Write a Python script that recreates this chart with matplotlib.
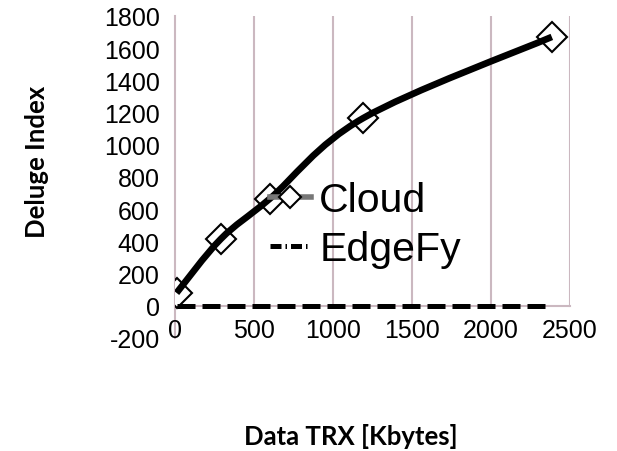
import numpy as np
import matplotlib
matplotlib.use('Agg')
import matplotlib.pyplot as plt
from matplotlib.path import Path
from matplotlib.patches import PathPatch
from matplotlib.lines import Line2D

# data
data_trx = [10, 290, 600, 1190, 2385]
cloud = [80, 415, 665, 1165, 1670]
edgefy = [0, 0, 0, 0, 0]
xticks = [0, 500, 1000, 1500, 2000, 2500]
yticks = list(range(-200, 1801, 200))

grid_col = '#cbb8c0'
plt.rcParams['font.family'] = ['Liberation Sans', 'DejaVu Sans']
plt.rcParams['axes.unicode_minus'] = False

fig = plt.figure(figsize=(6.17, 4.52), dpi=100)
ax = fig.add_axes([0.2836, 0.25, 0.6402, 0.7124])
ax.set_xlim(0, 2500)
ax.set_ylim(-200, 1800)

# vertical gridlines only above the zero line
for xv in xticks[1:]:
    ax.plot([xv, xv], [0, 1800], color=grid_col, lw=1.5, zorder=0)

for s in ['top', 'right']:
    ax.spines[s].set_visible(False)
ax.spines['bottom'].set_position(('data', 0))
ax.spines['left'].set_bounds(-200, 1800)
for s in ['bottom', 'left']:
    ax.spines[s].set_color(grid_col)
    ax.spines[s].set_linewidth(1.5)
    ax.spines[s].set_zorder(0)

ax.set_xticks(xticks)
ax.set_yticks(yticks)
ax.tick_params(axis='both', length=0, labelsize=18)
ax.tick_params(axis='y', pad=11)
ax.tick_params(axis='x', pad=9)


# smoothed line through the points (bezier segments, Excel-like)
def smooth_path(xs, ys):
    pts = np.column_stack([xs, ys]).astype(float)
    n = len(pts)
    verts = [pts[0]]
    codes = [Path.MOVETO]
    for i in range(n - 1):
        p0 = pts[i - 1] if i > 0 else pts[i]
        p1 = pts[i]
        p2 = pts[i + 1]
        p3 = pts[i + 2] if i + 2 < n else pts[i + 1]
        c1 = p1 + (p2 - p0) / 6.0
        c2 = p2 - (p3 - p1) / 6.0
        verts += [c1, c2, p2]
        codes += [Path.CURVE4] * 3
    return Path(verts, codes)


ax.plot(data_trx, cloud, linestyle='none', marker='D', ms=15.5, mfc='white',
        mec='black', mew=1.5, zorder=2)
ax.add_patch(PathPatch(smooth_path(data_trx, cloud), fill=False, edgecolor='black',
                       lw=4.8, capstyle='butt', zorder=3))
ax.plot(data_trx, edgefy, color='black', lw=3.6, ls=(0, (3.6, 1.4)), zorder=3)

handles = [
    Line2D([], [], color='#777777', lw=4, marker='D', ms=11, mfc='white', mec='black', mew=1.5),
    Line2D([], [], color='black', lw=3.6, ls=(0, (2.2, 0.8, 0.3, 0.8))),
]
ax.legend(handles, ['Cloud', 'EdgeFy'], loc='upper left', bbox_to_anchor=(270 / 617, 1 - 182 / 452),
          bbox_transform=fig.transFigure, frameon=False, fontsize=29.5, handlelength=1.0,
          handletextpad=0.2, labelspacing=0.28, borderpad=0, borderaxespad=0)

fig.text(351 / 617, 1 - 437 / 452, 'Data TRX [Kbytes]', ha='center', va='center',
         fontsize=18.5, fontweight='bold', family='Lato')
fig.text(37 / 617, 1 - 162 / 452, 'Deluge Index', ha='center', va='center', rotation=90,
         fontsize=18.5, fontweight='bold', family='Lato')

fig.savefig('out.png', dpi=100)
